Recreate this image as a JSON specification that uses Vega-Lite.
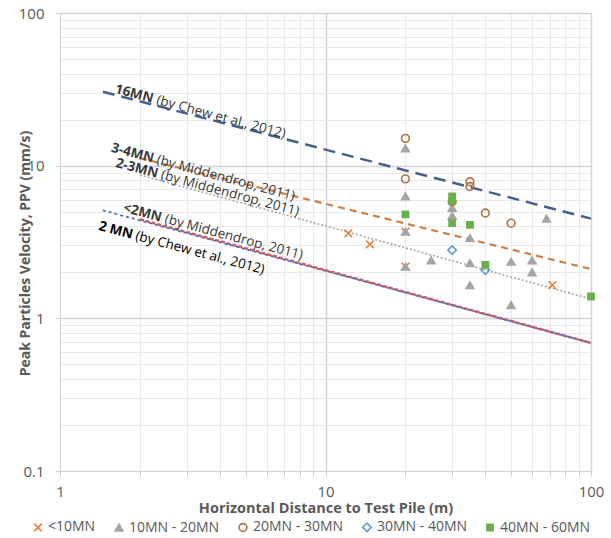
{
  "$schema": "https://vega.github.io/schema/vega-lite/v6.json",
  "width": 531,
  "height": 458,
  "autosize": {"type": "none"},
  "padding": {"left": 60, "top": 13, "right": 20, "bottom": 67},
  "background": "white",
  "config": {
    "font": "Open Sans",
    "view": {"stroke": null},
    "axis": {"labelFont": "Open Sans", "titleFont": "Open Sans"}
  },
  "datasets": {
    "points": [
      {"series": "<10MN", "dist": 12.2, "ppv": 3.6},
      {"series": "<10MN", "dist": 14.7, "ppv": 3.05},
      {"series": "<10MN", "dist": 71.5, "ppv": 1.65},
      {"series": "<10MN", "dist": 20, "ppv": 3.7},
      {"series": "<10MN", "dist": 20, "ppv": 2.18},
      {"series": "10MN - 20MN", "dist": 20, "ppv": 13.0},
      {"series": "10MN - 20MN", "dist": 20, "ppv": 6.3},
      {"series": "10MN - 20MN", "dist": 20, "ppv": 3.7},
      {"series": "10MN - 20MN", "dist": 20, "ppv": 2.18},
      {"series": "10MN - 20MN", "dist": 25, "ppv": 2.4},
      {"series": "10MN - 20MN", "dist": 30, "ppv": 5.3},
      {"series": "10MN - 20MN", "dist": 30, "ppv": 4.7},
      {"series": "10MN - 20MN", "dist": 35, "ppv": 3.35},
      {"series": "10MN - 20MN", "dist": 35, "ppv": 2.3},
      {"series": "10MN - 20MN", "dist": 35, "ppv": 1.65},
      {"series": "10MN - 20MN", "dist": 50, "ppv": 2.35},
      {"series": "10MN - 20MN", "dist": 50, "ppv": 1.22},
      {"series": "10MN - 20MN", "dist": 60, "ppv": 2.4},
      {"series": "10MN - 20MN", "dist": 60, "ppv": 2.0},
      {"series": "10MN - 20MN", "dist": 68, "ppv": 4.5},
      {"series": "20MN - 30MN", "dist": 20, "ppv": 15.1},
      {"series": "20MN - 30MN", "dist": 20, "ppv": 8.2},
      {"series": "20MN - 30MN", "dist": 35, "ppv": 7.85},
      {"series": "20MN - 30MN", "dist": 35, "ppv": 7.3},
      {"series": "20MN - 30MN", "dist": 40, "ppv": 4.9},
      {"series": "20MN - 30MN", "dist": 50, "ppv": 4.2},
      {"series": "20MN - 30MN", "dist": 30, "ppv": 5.8},
      {"series": "30MN - 40MN", "dist": 30, "ppv": 2.8},
      {"series": "30MN - 40MN", "dist": 40, "ppv": 2.07},
      {"series": "40MN - 60MN", "dist": 20, "ppv": 4.8},
      {"series": "40MN - 60MN", "dist": 30, "ppv": 6.3},
      {"series": "40MN - 60MN", "dist": 30, "ppv": 5.85},
      {"series": "40MN - 60MN", "dist": 30, "ppv": 4.2},
      {"series": "40MN - 60MN", "dist": 35, "ppv": 4.1},
      {"series": "40MN - 60MN", "dist": 40, "ppv": 2.24},
      {"series": "40MN - 60MN", "dist": 100, "ppv": 1.39}
    ],
    "lines": [
      {"line": "16MN", "dist": 1.45, "ppv": 30.5},
      {"line": "16MN", "dist": 100, "ppv": 4.5},
      {"line": "3-4MN", "dist": 2, "ppv": 11.2},
      {"line": "3-4MN", "dist": 100, "ppv": 2.1},
      {"line": "2-3MN", "dist": 2, "ppv": 8.7},
      {"line": "2-3MN", "dist": 100, "ppv": 1.34},
      {"line": "<2MN", "dist": 2, "ppv": 4.45},
      {"line": "<2MN", "dist": 100, "ppv": 0.69},
      {"line": "2MN", "dist": 1.45, "ppv": 5.1},
      {"line": "2MN", "dist": 100, "ppv": 0.69}
    ],
    "labels": [
      {"id": "16MN", "bold": "16MN", "rest": " (by Chew et al., 2012)", "dist": 1.6, "ppv": 30},
      {"id": "3-4MN", "bold": "3-4MN", "rest": " (by Middendrop, 2011)", "dist": 1.55, "ppv": 12.4},
      {"id": "2-3MN", "bold": "2-3MN", "rest": " (by Middendrop, 2011)", "dist": 1.61, "ppv": 9.85},
      {"id": "<2MN", "bold": "<2MN", "rest": " (by Middendrop, 2011)", "dist": 1.72, "ppv": 5.0},
      {"id": "2MN", "bold": "2 MN", "rest": " (by Chew et al., 2012)", "dist": 1.39, "ppv": 3.8}
    ]
  },
  "encoding": {
    "x": {
      "field": "dist", "type": "quantitative",
      "scale": {"type": "log", "domain": [1, 100], "nice": false},
      "axis": {
        "title": "Horizontal Distance to Test Pile (m)",
        "values": [1,2,3,4,5,6,7,8,9,10,20,30,40,50,60,70,80,90,100],
        "labelExpr": "(datum.value == 1 || datum.value == 10 || datum.value == 100) ? format(datum.value, '~g') : ''",
        "labelFontSize": 15, "labelColor": "#595959", "labelPadding": 8, "labelFlush": false,
        "titleFontSize": 14.5, "titleFontWeight": "bold", "titleColor": "#595959", "titlePadding": 2,
        "domainColor": "#d0d0d0", "tickColor": "#d0d0d0", "tickSize": 5,
        "gridColor": {"condition": {"test": "datum.value == 1 || datum.value == 10 || datum.value == 100", "value": "#d4d4d4"}, "value": "#e9e9e9"},
        "gridWidth": {"condition": {"test": "datum.value == 10 || datum.value == 100", "value": 1.5}, "value": 1},
        "labelOverlap": false
      }
    },
    "y": {
      "field": "ppv", "type": "quantitative",
      "scale": {"type": "log", "domain": [0.1, 100], "nice": false},
      "axis": {
        "title": "Peak Particles Velocity, PPV (mm/s)",
        "values": [0.1,0.2,0.3,0.4,0.5,0.6,0.7,0.8,0.9,1,2,3,4,5,6,7,8,9,10,20,30,40,50,60,70,80,90,100],
        "labelExpr": "(datum.value == 0.1 || datum.value == 1 || datum.value == 10 || datum.value == 100) ? format(datum.value, '~g') : ''",
        "labelFontSize": 15, "labelColor": "#595959", "labelPadding": 11, "labelFlush": false,
        "titleFontSize": 14, "titleFontWeight": "bold", "titleColor": "#595959",
        "titleX": -35, "titleY": 240, "titleAngle": -90, "titleAlign": "center", "titleBaseline": "middle",
        "domainColor": "#d0d0d0", "tickColor": "#d0d0d0", "tickSize": 5,
        "tickOpacity": {"condition": {"test": "datum.value == 0.1 || datum.value == 1 || datum.value == 10 || datum.value == 100", "value": 1}, "value": 0},
        "gridColor": {"condition": {"test": "datum.value == 0.1 || datum.value == 1 || datum.value == 10 || datum.value == 100", "value": "#d4d4d4"}, "value": "#e9e9e9"},
        "gridWidth": {"condition": {"test": "datum.value == 1 || datum.value == 10 || datum.value == 100", "value": 1.5}, "value": 1},
        "labelOverlap": false
      }
    }
  },
  "layer": [
    {
      "data": {"name": "lines"},
      "transform": [{"filter": "datum.line === '16MN'"}],
      "mark": {"type": "line", "stroke": "#46608E", "strokeWidth": 2.5, "strokeDash": [12, 7]}
    },
    {
      "data": {"name": "lines"},
      "transform": [{"filter": "datum.line === '3-4MN'"}],
      "mark": {"type": "line", "stroke": "#C9804A", "strokeWidth": 2.2, "strokeDash": [7, 5]}
    },
    {
      "data": {"name": "lines"},
      "transform": [{"filter": "datum.line === '2-3MN'"}],
      "mark": {"type": "line", "stroke": "#A6A6A6", "strokeWidth": 1.6, "strokeDash": [2, 2]}
    },
    {
      "data": {"name": "lines"},
      "transform": [{"filter": "datum.line === '<2MN'"}],
      "mark": {"type": "line", "stroke": "#E05A5A", "strokeWidth": 2.6, "strokeDash": [4, 2]}
    },
    {
      "data": {"name": "lines"},
      "transform": [{"filter": "datum.line === '2MN'"}],
      "mark": {"type": "line", "stroke": "#4472C4", "strokeWidth": 1.8, "strokeDash": [3, 3]}
    },
    {
      "data": {"name": "points"},
      "mark": {"type": "point", "opacity": 1, "strokeWidth": 1.6, "size": 60},
      "encoding": {
        "shape": {
          "field": "series", "type": "nominal",
          "scale": {
            "domain": ["<10MN", "10MN - 20MN", "20MN - 30MN", "30MN - 40MN", "40MN - 60MN"],
            "range": ["M-1,-1L1,1M-1,1L1,-1", "triangle-up", "circle", "M0,-1.1L1.1,0L0,1.1L-1.1,0Z", "M-0.8,-0.8H0.8V0.8H-0.8Z"]
          },
          "legend": {
            "title": null, "orient": "none", "legendX": -29, "legendY": 507, "direction": "horizontal",
            "labelFontSize": 14, "labelColor": "#595959", "labelFont": "Open Sans",
            "symbolSize": 60, "symbolStrokeWidth": 1.6, "columnPadding": 15, "labelOffset": 3, "padding": 0
          }
        },
        "fill": {
          "field": "series", "type": "nominal",
          "scale": {
            "domain": ["<10MN", "10MN - 20MN", "20MN - 30MN", "30MN - 40MN", "40MN - 60MN"],
            "range": ["#ED7D31", "#A5A5A5", "transparent", "transparent", "#6AB04C"]
          }
        },
        "stroke": {
          "field": "series", "type": "nominal",
          "scale": {
            "domain": ["<10MN", "10MN - 20MN", "20MN - 30MN", "30MN - 40MN", "40MN - 60MN"],
            "range": ["#ED7D31", "#A5A5A5", "#B5703F", "#5B9BD5", "#6AB04C"]
          }
        }
      }
    },
    {
      "data": {"name": "labels"},
      "mark": {"type": "text", "angle": 15, "align": "left", "baseline": "alphabetic", "fontSize": 13.5, "fontWeight": "bold"},
      "encoding": {
        "text": {"field": "bold"},
        "color": {"condition": {"test": "datum.id === '2MN'", "value": "#000000"}, "value": "#3a3a3a"}
      }
    },
    {
      "data": {"name": "labels"},
      "transform": [{"filter": "datum.id === '16MN'"}],
      "mark": {"type": "text", "angle": 15, "align": "left", "baseline": "alphabetic", "fontSize": 13.5, "dx": 43, "color": "#3a3a3a"},
      "encoding": {"text": {"field": "rest"}}
    },
    {
      "data": {"name": "labels"},
      "transform": [{"filter": "datum.id === '3-4MN' || datum.id === '2-3MN'"}],
      "mark": {"type": "text", "angle": 15, "align": "left", "baseline": "alphabetic", "fontSize": 13.5, "dx": 47, "color": "#3a3a3a"},
      "encoding": {"text": {"field": "rest"}}
    },
    {
      "data": {"name": "labels"},
      "transform": [{"filter": "datum.id === '<2MN'"}],
      "mark": {"type": "text", "angle": 15, "align": "left", "baseline": "alphabetic", "fontSize": 13.5, "dx": 43, "color": "#3a3a3a"},
      "encoding": {"text": {"field": "rest"}}
    },
    {
      "data": {"name": "labels"},
      "transform": [{"filter": "datum.id === '2MN'"}],
      "mark": {"type": "text", "angle": 15, "align": "left", "baseline": "alphabetic", "fontSize": 13.5, "dx": 38, "color": "#000000"},
      "encoding": {"text": {"field": "rest"}}
    }
  ]
}
